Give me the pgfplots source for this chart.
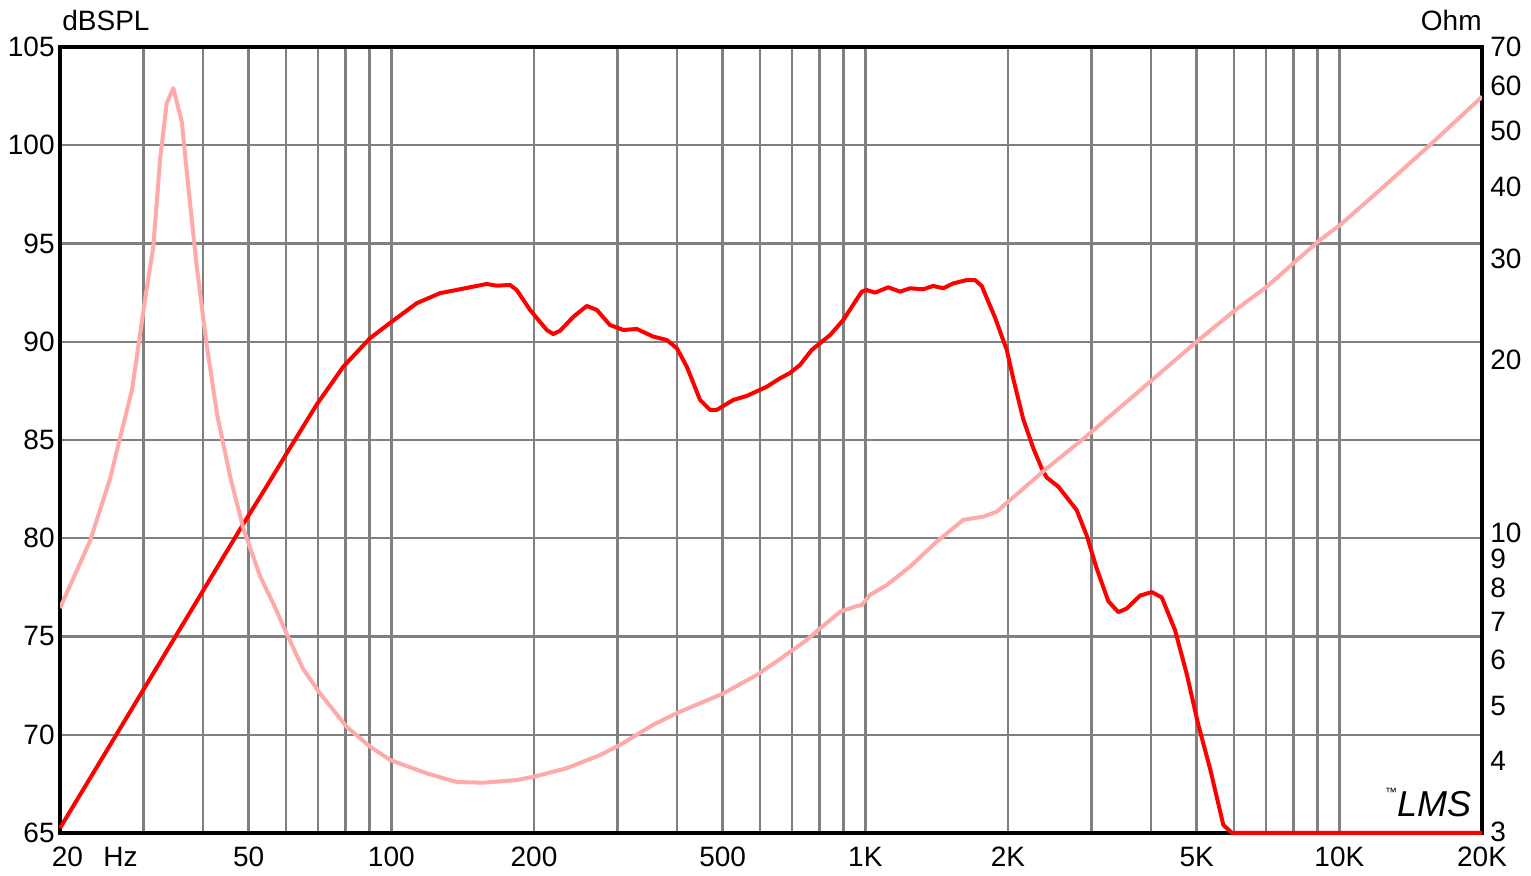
\documentclass[border=0pt]{standalone}
\usepackage{fontspec}
\setmainfont{Liberation Sans}
\usepackage{pgfplots}
\pgfplotsset{compat=1.18}
\definecolor{spl}{RGB}{255,0,0}
\definecolor{imp}{RGB}{255,170,170}
\definecolor{grd}{RGB}{128,128,128}
\begin{document}
\begin{tikzpicture}[font=\fontsize{14}{16}\selectfont]
\useasboundingbox (-30pt,-21.5pt) rectangle (735.5pt,416.5pt);
\begin{axis}[scale only axis, width=711pt, height=393pt, at={(0,0)}, anchor=south west,
  xmode=log, xmin=20, xmax=20000, ymin=65, ymax=105,
  major tick length=0pt,
  xtick={20,30,40,50,60,70,80,90,100,200,300,400,500,600,700,800,900,1000,2000,3000,4000,5000,6000,7000,8000,9000,10000,20000},
  xticklabels={{},{},{},50,{},{},{},{},100,200,{},{},500,{},{},{},{},1K,2K,{},{},5K,{},{},{},{},10K,20K},
  ytick={65,70,75,80,85,90,95,100,105},
  yticklabels={65,70,75,80,85,90,95,100,105},
  grid=major, major grid style={grd, line width=1.2pt},
  axis line style={black, line width=1.8pt},
  xticklabel style={anchor=north, inner sep=0pt, yshift=-7pt, font=\fontsize{14}{16}\selectfont},
  yticklabel style={anchor=east, inner sep=0pt, xshift=-2.5pt, font=\fontsize{14}{16}\selectfont},
  clip=false,
]
\addplot[spl, line width=2pt, line join=round] coordinates {
(20,65.25)(26.12,69.89)(34.5,74.73)(40.46,77.50)(48.33,80.59)(54.60,82.65)(61.13,84.60)(69.59,86.80)(79.18,88.73)(90.16,90.18)(100.2,91.02)(113.1,91.96)(126.6,92.47)(139.6,92.67)(158.9,92.94)(166.9,92.85)(178.0,92.89)(183.9,92.63)(196.2,91.62)(212.7,90.60)(219.6,90.39)(227.0,90.56)(242.1,91.27)(258.4,91.82)(271.3,91.62)(289.3,90.85)(308.6,90.60)(329.5,90.65)(357.0,90.26)(381.1,90.09)(400.2,89.67)(420.1,88.73)(448.0,87.04)(470.3,86.53)(485.8,86.53)(526.7,87.04)(561.9,87.24)(619.4,87.71)(660.7,88.14)(693.6,88.41)(728.2,88.82)(770.7,89.58)(842.6,90.34)(898.5,91.11)(982.6,92.55)(1007,92.63)(1048,92.50)(1118,92.77)(1184,92.55)(1242,92.72)(1325,92.67)(1391,92.84)(1460,92.72)(1533,92.97)(1636,93.14)(1704,93.14)(1760,92.84)(1877,91.24)(1988,89.58)(2053,88.09)(2154,86.05)(2262,84.57)(2356,83.55)(2413,83.09)(2553,82.63)(2792,81.43)(2932,80.13)(3077,78.46)(3255,76.80)(3418,76.24)(3559,76.42)(3798,77.08)(4020,77.26)(4220,76.99)(4502,75.32)(4765,73.09)(5041,70.50)(5336,68.28)(5692,65.41)(5937,65)(20000,65)};
\end{axis}
\begin{axis}[scale only axis, width=711pt, height=393pt, at={(0,0)}, anchor=south west,
  xmode=log, xmin=20, xmax=20000, ymode=log, ymin=3, ymax=70,
  major tick length=0pt, xtick=\empty,
  axis line style={draw=none}, yticklabel pos=right,
  ytick={3,4,5,6,7,8,9,10,20,30,40,50,60,70},
  yticklabels={\raisebox{1.5pt}{3},4,5,6,7,8,9,10,20,30,40,50,60,70},
  yticklabel style={anchor=west, inner sep=0pt, xshift=4pt, font=\fontsize{14}{16}\selectfont}]
\addplot[imp, line width=2pt, line join=round] coordinates {
(20,7.39)(23.14,9.67)(25.5,12.40)(26.77,14.61)(28.37,17.71)(29.5,22.12)(30.22,25.40)(31.47,31.45)(32.51,44.51)(33.58,55.87)(34.68,59.33)(36.13,51.89)(37.3,39.99)(38.86,29.01)(40.78,21.21)(42.88,16.08)(45.67,12.55)(48.66,10.20)(52.84,8.40)(56.29,7.54)(60.24,6.65)(65.13,5.79)(70.72,5.25)(80.5,4.59)(90.2,4.24)(99.4,4.02)(118.8,3.81)(137.4,3.68)(156.3,3.67)(183.9,3.71)(202.6,3.77)(234.4,3.89)(275.6,4.10)(303.8,4.27)(357.0,4.63)(400.2,4.85)(501.7,5.25)(589.9,5.65)(671.4,6.08)(752.0,6.50)(802.3,6.81)(884.6,7.28)(959.0,7.45)(982.6,7.48)(1023,7.79)(1109,8.10)(1242,8.72)(1414,9.64)(1609,10.52)(1774,10.66)(1893,10.87)(2020,11.39)(2262,12.35)(2413,12.93)(2907,14.64)(3737,17.48)(5002,21.50)(5975,24.24)(7028,26.78)(7998,29.42)(9105,32.30)(10030,34.29)(12180,39.47)(15540,47.28)(20000,57.35)};
\end{axis}
\node[anchor=base west, inner sep=0pt] at (1pt,401pt) {dBSPL};
\node[anchor=base east, inner sep=0pt] at (711pt,401pt) {Ohm};
\node[anchor=north, inner sep=0pt] at (3.75pt,-7pt) {20};
\node[anchor=north, inner sep=0pt] at (30.25pt,-7pt) {Hz};
\node[inner sep=0pt] at (684pt,15pt) {\fontsize{6}{7}\selectfont\raisebox{10pt}{\texttrademark}\fontsize{18}{20}\selectfont\itshape LMS};
\end{tikzpicture}
\end{document}
